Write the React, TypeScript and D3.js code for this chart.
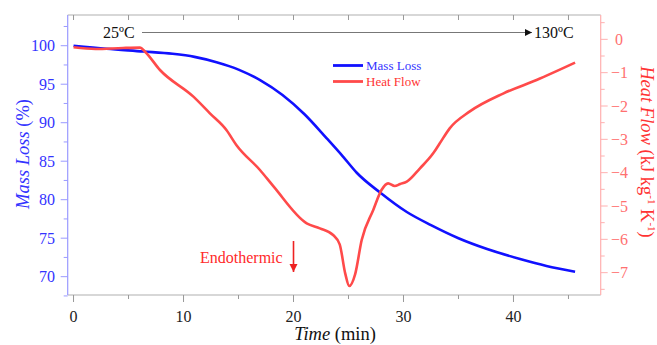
import * as d3 from 'd3';

// Mass loss (%) vs time (min)
const massTime = [0, 3, 6.35, 9, 11, 13, 15, 17, 19, 21, 23, 24.5, 25.75, 27.9, 30.3, 32.5, 35, 37.6, 40.6, 43, 45.6];
const massLoss = [100, 99.6, 99.25, 98.95, 98.55, 97.85, 96.9, 95.5, 93.6, 91.1, 88.0, 85.6, 83.5, 80.9, 78.4, 76.7, 75.0, 73.6, 72.3, 71.4, 70.65];

// Heat flow (kJ kg-1 K-1) vs time (min)
const heatTime = [0, 2, 4.5, 6.05, 6.5, 7.86, 10.9, 12.4, 13.9, 14.8, 16.95, 18.2, 21.2, 22.4, 23.6, 24.2, 24.7, 25.07, 25.6, 26.2, 27.25, 28.0, 28.6, 29.2, 29.7, 30.3, 31.5, 32.7, 33.3, 34.2, 36.0, 39.1, 42.1, 45.6];
const heatFlow = [-0.24, -0.29, -0.26, -0.25, -0.37, -0.92, -1.72, -2.22, -2.72, -3.17, -3.92, -4.42, -5.52, -5.67, -5.87, -6.15, -7.02, -7.4, -7.05, -6.02, -5.12, -4.52, -4.32, -4.4, -4.34, -4.27, -3.87, -3.42, -3.12, -2.67, -2.17, -1.62, -1.22, -0.7];

const xMajor = [0, 10, 20, 30, 40];
const xMinor = [5, 15, 25, 35, 45];
const leftMajor = [70, 75, 80, 85, 90, 95, 100];
const leftMinor = [67.5, 72.5, 77.5, 82.5, 87.5, 92.5, 97.5, 102.5];
const rightMajor = [0, -1, -2, -3, -4, -5, -6, -7];
const rightMinor = [0.5, -0.5, -1.5, -2.5, -3.5, -4.5, -5.5, -6.5, -7.5];

const W = 657;
const H = 345;
const L = 67.7, R = 600.7, T = 15, B = 295;

const BLUE = '#1111ff';
const RED = '#ff4a4a';
const FONT = '"Liberation Serif", "DejaVu Serif", serif';

export default function App() {
  const x = d3.scaleLinear().domain([-0.53, 47.93]).range([L, R]);
  const yL = d3.scaleLinear().domain([67.62, 103.99]).range([B, T]);
  const yR = d3.scaleLinear().domain([-7.67, 0.73]).range([B, T]);

  const massPts = massTime.map((t, i) => [t, massLoss[i]] as [number, number]);
  const heatPts = heatTime.map((t, i) => [t, heatFlow[i]] as [number, number]);

  const massLine = d3.line<[number, number]>()
    .x((d) => x(d[0]))
    .y((d) => yL(d[1]))
    .curve(d3.curveMonotoneX);
  const heatLine = d3.line<[number, number]>()
    .x((d) => x(d[0]))
    .y((d) => yR(d[1]))
    .curve(d3.curveMonotoneX);

  return (
    <svg width={W} height={H} style={{ position: 'absolute', left: 0, top: 0, background: '#fff' }} fontFamily={FONT}>
      <defs>
        <marker id="ah" viewBox="0 0 10 10" refX="10" refY="5" markerWidth="9" markerHeight="7" markerUnits="userSpaceOnUse" orient="auto">
          <path d="M0,0 L10,5 L0,10 z" fill="#111" />
        </marker>
        <marker id="ahr" viewBox="0 0 10 10" refX="10" refY="5" markerWidth="8" markerHeight="10" markerUnits="userSpaceOnUse" orient="auto">
          <path d="M0,0 L10,5 L0,10 z" fill="#ee2222" />
        </marker>
      </defs>

      {/* frame top / bottom */}
      <line x1={L} x2={R} y1={T} y2={T} stroke="#b0b0b0" strokeWidth={1.2} />
      <line x1={L} x2={R} y1={B} y2={B} stroke="#b0b0b0" strokeWidth={1.2} />

      {/* bottom ticks */}
      {xMajor.map((v) => (
        <g key={'xb' + v}>
          <line x1={x(v)} x2={x(v)} y1={B} y2={B + 7} stroke="#999" />
          <text x={x(v)} y={322} textAnchor="middle" fontSize={16} fill="#222">{v}</text>
        </g>
      ))}
      {xMinor.map((v) => (
        <line key={'xm' + v} x1={x(v)} x2={x(v)} y1={B} y2={B + 4} stroke="#999" />
      ))}
      {/* top ticks */}
      {[...xMajor, ...xMinor].map((v) => (
        <line key={'xt' + v} x1={x(v)} x2={x(v)} y1={T} y2={T + 5} stroke="#999" />
      ))}

      {/* left axis */}
      <line x1={L} x2={L} y1={T} y2={B} stroke="#9a9aff" strokeWidth={1.2} />
      {leftMajor.map((v) => (
        <g key={'yl' + v}>
          <line x1={L - 7} x2={L} y1={yL(v)} y2={yL(v)} stroke="#9a9aff" />
          <text x={55} y={yL(v) + 5.5} textAnchor="end" fontSize={16} fill="#3333ff">{v}</text>
        </g>
      ))}
      {leftMinor.map((v) => (
        <line key={'ylm' + v} x1={L - 4} x2={L} y1={yL(v)} y2={yL(v)} stroke="#9a9aff" />
      ))}

      {/* right axis */}
      <line x1={R} x2={R} y1={T} y2={B} stroke="#ffb0b0" strokeWidth={1.2} />
      {rightMajor.map((v) => (
        <g key={'yr' + v}>
          <line x1={R} x2={R + 7} y1={yR(v)} y2={yR(v)} stroke="#ffb0b0" />
          <text x={v === 0 ? 615 : 611} y={yR(v) + 5.5} textAnchor="start" fontSize={16} fill="#ff7070">
            {v === 0 ? '0' : '\u2212' + Math.abs(v)}
          </text>
        </g>
      ))}
      {rightMinor.map((v) => (
        <line key={'yrm' + v} x1={R} x2={R + 4} y1={yR(v)} y2={yR(v)} stroke="#ffb0b0" />
      ))}

      {/* axis titles */}
      <text transform="translate(29,154) rotate(-90)" textAnchor="middle" fontSize={18.5} fill="#3333ff">
        <tspan fontStyle="italic">Mass Loss</tspan> (%)
      </text>
      <text transform="translate(641,152) rotate(90)" textAnchor="middle" fontSize={18.5} fill="#ff3333">
        <tspan fontStyle="italic">Heat Flow</tspan> (kJ kg<tspan fontSize={11} dy={-7}>-1</tspan><tspan dy={7}> K</tspan><tspan fontSize={11} dy={-7}>-1</tspan><tspan dy={7}>)</tspan>
      </text>
      <text x={335} y={340} textAnchor="middle" fontSize={18.5} fill="#111">
        <tspan fontStyle="italic">Time</tspan> (min)
      </text>

      {/* temperature ramp annotation */}
      <text x={103} y={38} fontSize={16} fill="#111">25ºC</text>
      <line x1={142} x2={532} y1={32.5} y2={32.5} stroke="#777" strokeWidth={1} markerEnd="url(#ah)" />
      <text x={534} y={38} fontSize={16} fill="#111">130ºC</text>

      {/* curves */}
      <path d={massLine(massPts) ?? ''} fill="none" stroke={BLUE} strokeWidth={2.6} />
      <path d={heatLine(heatPts) ?? ''} fill="none" stroke={RED} strokeWidth={2.6} />

      {/* legend */}
      <line x1={333} x2={363} y1={65.5} y2={65.5} stroke={BLUE} strokeWidth={2.8} />
      <text x={366} y={70} fontSize={13} fill="#3333ff">Mass Loss</text>
      <line x1={333} x2={363} y1={81.5} y2={81.5} stroke={RED} strokeWidth={2.8} />
      <text x={366} y={86} fontSize={13} fill="#ff3333">Heat Flow</text>

      {/* endothermic annotation */}
      <text x={200} y={263} fontSize={16} fill="#ff2a2a">Endothermic</text>
      <line x1={x(20)} x2={x(20)} y1={241} y2={272} stroke="#ee2222" strokeWidth={1.6} markerEnd="url(#ahr)" />
    </svg>
  );
}
